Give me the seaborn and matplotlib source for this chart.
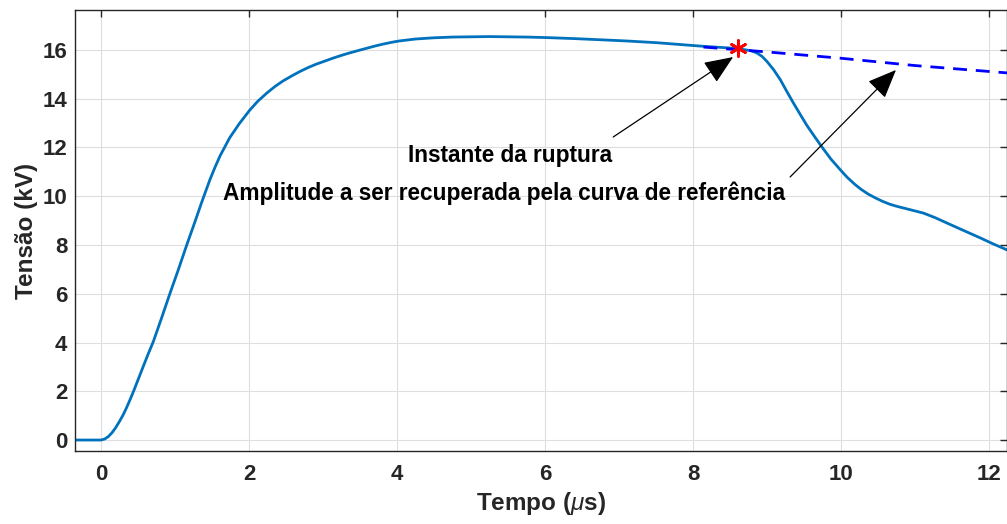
import numpy as np
import pandas as pd
import matplotlib
matplotlib.use("Agg")
import matplotlib.pyplot as plt
import seaborn as sns

# Measured waveform (time in microseconds, voltage in kV)
tempo = [-0.35, 0.0, 0.05, 0.10, 0.15, 0.20, 0.25, 0.30, 0.35, 0.40, 0.45,
         0.50, 0.572, 0.64, 0.707, 0.82, 0.93, 1.045, 1.157, 1.27, 1.36, 1.47,
         1.54, 1.61, 1.74, 1.87, 2.01, 2.12, 2.24, 2.35, 2.46, 2.58, 2.69, 2.80,
         2.91, 3.03, 3.14, 3.25, 3.36, 3.48, 3.59, 3.70, 3.81, 3.92, 4.03, 4.25,
         4.5, 4.75, 5.0, 5.25, 5.5, 5.75, 6.0, 6.37, 6.74, 7.1, 7.5, 7.8, 8.14,
         8.4, 8.55, 8.68, 8.78, 8.86, 8.93, 9.0, 9.09, 9.18, 9.26, 9.35, 9.45,
         9.54, 9.64, 9.74, 9.86, 9.99, 10.08, 10.18, 10.27, 10.37, 10.47, 10.56,
         10.66, 10.76, 10.93, 11.11, 11.27, 11.43, 11.65, 11.88, 12.05, 12.24]
tensao = [0.0, 0.0, 0.04, 0.14, 0.30, 0.51, 0.76, 1.03, 1.35, 1.70, 2.07,
          2.46, 3.02, 3.54, 4.03, 5.01, 5.99, 6.98, 7.98, 8.95, 9.74, 10.66,
          11.18, 11.66, 12.40, 12.98, 13.53, 13.90, 14.23, 14.50, 14.73, 14.94, 15.12, 15.28,
          15.42, 15.55, 15.67, 15.78, 15.88, 15.98, 16.07, 16.16, 16.24, 16.31, 16.37, 16.45,
          16.50, 16.53, 16.54, 16.55, 16.54, 16.53, 16.51, 16.47, 16.42, 16.37, 16.30, 16.23, 16.15,
          16.10, 16.07, 16.02, 15.97, 15.88, 15.74, 15.52, 15.18, 14.77, 14.33, 13.85, 13.34,
          12.89, 12.45, 12.02, 11.53, 11.08, 10.78, 10.50, 10.28, 10.08, 9.92, 9.79,
          9.67, 9.58, 9.45, 9.31, 9.12, 8.90, 8.60, 8.29, 8.05, 7.80]

# Reference (recovered amplitude) curve
tempo_ref = [8.14, 9.0, 10.0, 11.0, 12.24]
tensao_ref = [16.12, 15.92, 15.66, 15.36, 15.06]

# Breakdown instant
t_ruptura = [8.61]
v_ruptura = [16.08]

xticks = [0, 2, 4, 6, 8, 10, 12]
yticks = [0, 2, 4, 6, 8, 10, 12, 14, 16]

sns.set_theme(style="white")
plt.rcParams['font.family'] = ['Liberation Sans', 'DejaVu Sans']
plt.rcParams['mathtext.fontset'] = 'custom'
plt.rcParams['mathtext.it'] = 'Liberation Sans:italic'
plt.rcParams['mathtext.rm'] = 'Liberation Sans:bold'

fig = plt.figure(figsize=(10.07, 5.24), dpi=100)
ax = fig.add_axes([75/1007, 73/524, 932/1007, 441/524])

df = pd.DataFrame({"t": tempo, "v": tensao})
df_ref = pd.DataFrame({"t": tempo_ref, "v": tensao_ref})

sns.lineplot(data=df_ref, x="t", y="v", ax=ax, color="#0000FF", lw=2.0,
             linestyle=(0, (5, 3.2)), estimator=None, sort=False, zorder=3)
sns.lineplot(data=df, x="t", y="v", ax=ax, color="#0072BD", lw=2.0,
             estimator=None, sort=False, zorder=2)
sns.scatterplot(x=t_ruptura, y=v_ruptura, ax=ax, marker=(6, 2, 0), s=130,
                color="#FF0000", linewidth=2.0, edgecolor="#FF0000", zorder=4)

ax.set_xlim(-0.35, 12.24)
ax.set_ylim(-0.45, 17.64)
ax.set_xticks(xticks)
ax.set_yticks(yticks)
ax.grid(True, color="#dedede", lw=0.8)
ax.set_axisbelow(True)

for side in ["left", "bottom", "top", "right"]:
    ax.spines[side].set_color("#262626")
    ax.spines[side].set_linewidth(1.0)
ax.tick_params(direction="in", length=5, width=1.0, color="#262626",
               top=True, right=True, labelsize=16, labelcolor="#262626")
ax.tick_params(axis="y", pad=5.5)
ax.tick_params(axis="x", pad=9)
for lab in ax.get_xticklabels() + ax.get_yticklabels():
    lab.set_fontweight("bold")

ax.set_xlabel(r"Tempo ($\mu$s)", fontsize=17.5, fontweight="bold", color="#262626", labelpad=4)
ax.set_ylabel("Tensão (kV)", fontsize=17.5, fontweight="bold", color="#262626", labelpad=3)

arrow_kw = dict(arrowstyle="-|>,head_length=1.2,head_width=0.5", color="black",
                lw=0.9, mutation_scale=15, shrinkA=0, shrinkB=0)
ax.annotate("", xy=(8.54, 15.71), xytext=(6.92, 12.43), arrowprops=arrow_kw)
ax.annotate("", xy=(10.74, 15.18), xytext=(9.31, 10.79), arrowprops=arrow_kw)
ax.text(5.53, 11.69, "Instante da ruptura", ha="center", va="center",
        fontsize=16.3, fontweight="bold", color="black")
ax.text(5.45, 10.13, "Amplitude a ser recuperada pela curva de referência",
        ha="center", va="center", fontsize=16.3, fontweight="bold", color="black")

fig.savefig("out.png", dpi=100)
